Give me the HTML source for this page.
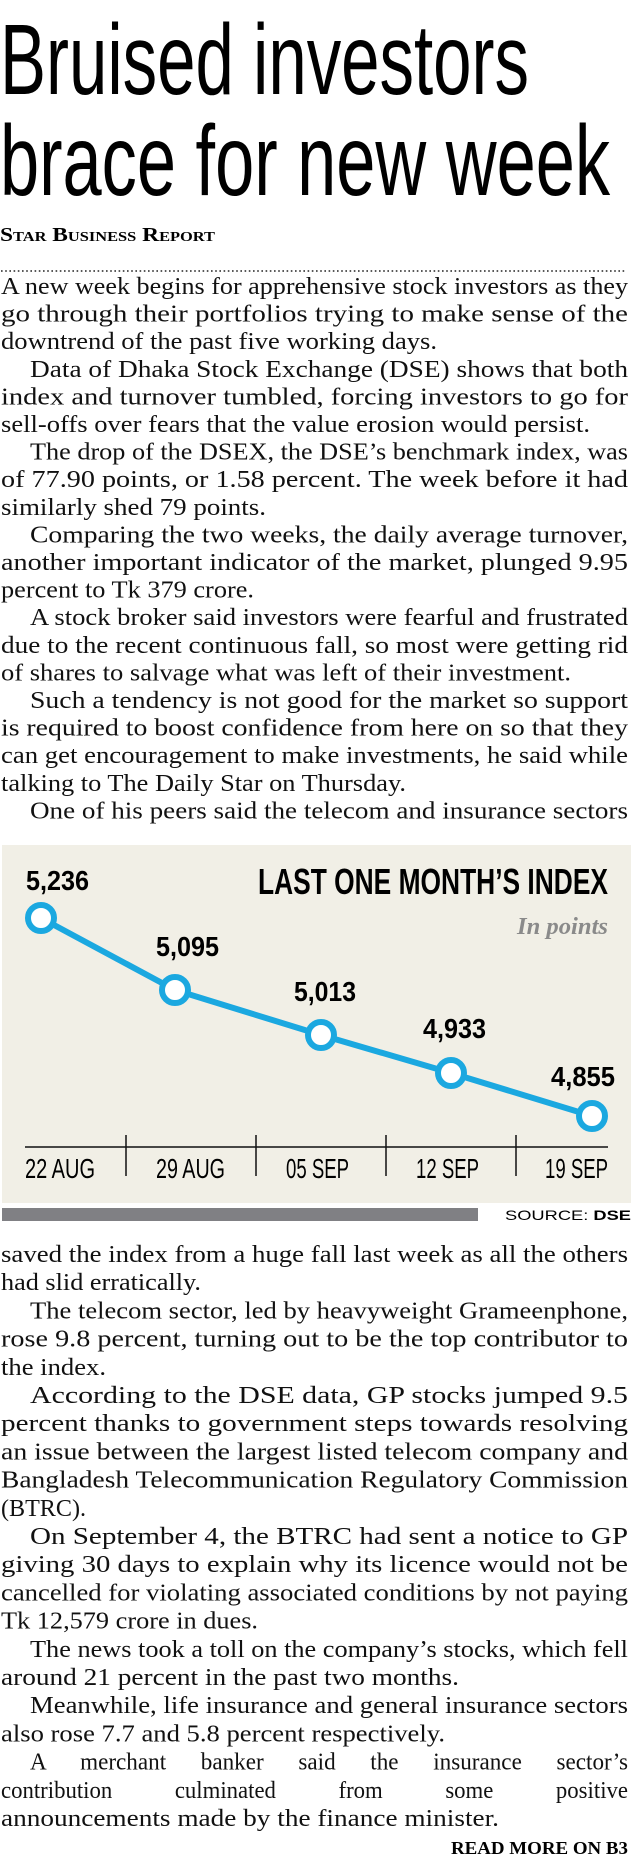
<!DOCTYPE html>
<html><head><meta charset="utf-8"><style>
html,body{margin:0;padding:0;background:#fff;}
svg{display:block;}
.b{font-family:"Liberation Serif",serif;font-size:24px;fill:#111;}
.c{font-family:"Liberation Sans Narrow","Liberation Sans",sans-serif;}
</style></head><body>
<svg width="631" height="1867" viewBox="0 0 631 1867" xmlns="http://www.w3.org/2000/svg">
<text class="c" x="0" y="94" font-size="100" textLength="529" lengthAdjust="spacingAndGlyphs">Bruised investors</text>
<text class="c" x="0" y="195" font-size="100" textLength="610" lengthAdjust="spacingAndGlyphs">brace for new week</text>
<text x="0" y="241" font-family="Liberation Serif,serif" font-size="20" font-weight="bold" textLength="215" lengthAdjust="spacingAndGlyphs" style="font-variant:small-caps">Star Business Report</text>
<line x1="1" y1="271" x2="625" y2="271" stroke="#222" stroke-width="1.6" stroke-dasharray="1.6 2.6"/>
<g class="b" lengthAdjust="spacingAndGlyphs">
<text x="1" y="294" textLength="627" lengthAdjust="spacingAndGlyphs">A new week begins for apprehensive stock investors as they</text>
<text x="1" y="321.6" textLength="627" lengthAdjust="spacingAndGlyphs">go through their portfolios trying to make sense of the</text>
<text x="1" y="349.2" textLength="436" lengthAdjust="spacingAndGlyphs">downtrend of the past five working days.</text>
<text x="30" y="376.8" textLength="598" lengthAdjust="spacingAndGlyphs">Data of Dhaka Stock Exchange (DSE) shows that both</text>
<text x="1" y="404.4" textLength="627" lengthAdjust="spacingAndGlyphs">index and turnover tumbled, forcing investors to go for</text>
<text x="1" y="432" textLength="589" lengthAdjust="spacingAndGlyphs">sell-offs over fears that the value erosion would persist.</text>
<text x="30" y="459.6" textLength="598" lengthAdjust="spacingAndGlyphs">The drop of the DSEX, the DSE’s benchmark index, was</text>
<text x="1" y="487.2" textLength="627" lengthAdjust="spacingAndGlyphs">of 77.90 points, or 1.58 percent. The week before it had</text>
<text x="1" y="514.8" textLength="265" lengthAdjust="spacingAndGlyphs">similarly shed 79 points.</text>
<text x="30" y="542.4" textLength="598" lengthAdjust="spacingAndGlyphs">Comparing the two weeks, the daily average turnover,</text>
<text x="1" y="570" textLength="627" lengthAdjust="spacingAndGlyphs">another important indicator of the market, plunged 9.95</text>
<text x="1" y="597.6" textLength="253" lengthAdjust="spacingAndGlyphs">percent to Tk 379 crore.</text>
<text x="30" y="625.2" textLength="598" lengthAdjust="spacingAndGlyphs">A stock broker said investors were fearful and frustrated</text>
<text x="1" y="652.8" textLength="627" lengthAdjust="spacingAndGlyphs">due to the recent continuous fall, so most were getting rid</text>
<text x="1" y="680.4" textLength="570" lengthAdjust="spacingAndGlyphs">of shares to salvage what was left of their investment.</text>
<text x="30" y="708" textLength="598" lengthAdjust="spacingAndGlyphs">Such a tendency is not good for the market so support</text>
<text x="1" y="735.6" textLength="627" lengthAdjust="spacingAndGlyphs">is required to boost confidence from here on so that they</text>
<text x="1" y="763.2" textLength="627" lengthAdjust="spacingAndGlyphs">can get encouragement to make investments, he said while</text>
<text x="1" y="790.8" textLength="405" lengthAdjust="spacingAndGlyphs">talking to The Daily Star on Thursday.</text>
<text x="30" y="818.4" textLength="598" lengthAdjust="spacingAndGlyphs">One of his peers said the telecom and insurance sectors</text>
</g>
<!-- chart -->
<rect x="2" y="845" width="629" height="358" fill="#f1efe6"/>
<text class="c" x="258" y="894" font-size="36" font-weight="bold" textLength="350" lengthAdjust="spacingAndGlyphs">LAST ONE MONTH’S INDEX</text>
<text x="517" y="934" font-family="Liberation Serif,serif" font-style="italic" font-weight="bold" font-size="24" fill="#8a8a8a" textLength="91" lengthAdjust="spacingAndGlyphs">In points</text>
<polyline points="41,918 175,990 321,1035 451,1073 592,1116" fill="none" stroke="#1ba8e0" stroke-width="6"/>
<g fill="#fff" stroke="#1ba8e0" stroke-width="6">
<circle cx="41" cy="918" r="13"/><circle cx="175" cy="990" r="13"/><circle cx="321" cy="1035" r="13"/><circle cx="451" cy="1073" r="13"/><circle cx="592" cy="1116" r="13"/>
</g>
<g class="c" font-size="28" font-weight="bold">
<text x="26" y="890" textLength="63" lengthAdjust="spacingAndGlyphs">5,236</text>
<text x="156" y="956" textLength="63" lengthAdjust="spacingAndGlyphs">5,095</text>
<text x="294" y="1001" textLength="62" lengthAdjust="spacingAndGlyphs">5,013</text>
<text x="423" y="1038" textLength="63" lengthAdjust="spacingAndGlyphs">4,933</text>
<text x="551" y="1086" textLength="64" lengthAdjust="spacingAndGlyphs">4,855</text>
</g>
<line x1="25" y1="1147" x2="608" y2="1147" stroke="#111" stroke-width="1.5"/>
<g stroke="#111" stroke-width="1.5">
<line x1="126" y1="1135" x2="126" y2="1176"/><line x1="256" y1="1135" x2="256" y2="1176"/><line x1="386" y1="1135" x2="386" y2="1176"/><line x1="516" y1="1135" x2="516" y2="1176"/>
</g>
<g class="c" font-size="28">
<text x="25" y="1178" textLength="70" lengthAdjust="spacingAndGlyphs">22 AUG</text>
<text x="156" y="1178" textLength="69" lengthAdjust="spacingAndGlyphs">29 AUG</text>
<text x="286" y="1178" textLength="63" lengthAdjust="spacingAndGlyphs">05 SEP</text>
<text x="416" y="1178" textLength="63" lengthAdjust="spacingAndGlyphs">12 SEP</text>
<text x="545" y="1178" textLength="63" lengthAdjust="spacingAndGlyphs">19 SEP</text>
</g>
<rect x="2" y="1208" width="476" height="13" fill="#808084"/>
<text x="505" y="1220" font-family="Liberation Sans,sans-serif" font-size="14" textLength="126" lengthAdjust="spacingAndGlyphs">SOURCE: <tspan font-weight="bold">DSE</tspan></text>
<g class="b">
<text x="1" y="1262" textLength="627" lengthAdjust="spacingAndGlyphs">saved the index from a huge fall last week as all the others</text>
<text x="1" y="1290.2" textLength="200" lengthAdjust="spacingAndGlyphs">had slid erratically.</text>
<text x="30" y="1318.4" textLength="598" lengthAdjust="spacingAndGlyphs">The telecom sector, led by heavyweight Grameenphone,</text>
<text x="1" y="1346.6" textLength="627" lengthAdjust="spacingAndGlyphs">rose 9.8 percent, turning out to be the top contributor to</text>
<text x="1" y="1374.8" textLength="105" lengthAdjust="spacingAndGlyphs">the index.</text>
<text x="30" y="1403" textLength="598" lengthAdjust="spacingAndGlyphs">According to the DSE data, GP stocks jumped 9.5</text>
<text x="1" y="1431.2" textLength="627" lengthAdjust="spacingAndGlyphs">percent thanks to government steps towards resolving</text>
<text x="1" y="1459.4" textLength="627" lengthAdjust="spacingAndGlyphs">an issue between the largest listed telecom company and</text>
<text x="1" y="1487.6" textLength="627" lengthAdjust="spacingAndGlyphs">Bangladesh Telecommunication Regulatory Commission</text>
<text x="1" y="1515.8" textLength="85" lengthAdjust="spacingAndGlyphs">(BTRC).</text>
<text x="30" y="1544" textLength="598" lengthAdjust="spacingAndGlyphs">On September 4, the BTRC had sent a notice to GP</text>
<text x="1" y="1572.2" textLength="627" lengthAdjust="spacingAndGlyphs">giving 30 days to explain why its licence would not be</text>
<text x="1" y="1600.4" textLength="627" lengthAdjust="spacingAndGlyphs">cancelled for violating associated conditions by not paying</text>
<text x="1" y="1628.6" textLength="257" lengthAdjust="spacingAndGlyphs">Tk 12,579 crore in dues.</text>
<text x="30" y="1656.8" textLength="598" lengthAdjust="spacingAndGlyphs">The news took a toll on the company’s stocks, which fell</text>
<text x="1" y="1685" textLength="458" lengthAdjust="spacingAndGlyphs">around 21 percent in the past two months.</text>
<text x="30" y="1713.2" textLength="598" lengthAdjust="spacingAndGlyphs">Meanwhile, life insurance and general insurance sectors</text>
<text x="1" y="1741.4" textLength="444" lengthAdjust="spacingAndGlyphs">also rose 7.7 and 5.8 percent respectively.</text>
<text x="30" y="1769.6" textLength="598" lengthAdjust="spacingAndGlyphs" word-spacing="30">A merchant banker said the insurance sector’s</text>
<text x="1" y="1797.8" textLength="627" lengthAdjust="spacingAndGlyphs" word-spacing="60">contribution culminated from some positive</text>
<text x="1" y="1826" textLength="498" lengthAdjust="spacingAndGlyphs">announcements made by the finance minister.</text>
</g>
<text x="451" y="1854" font-family="Liberation Serif,serif" font-weight="bold" font-size="18" textLength="177" lengthAdjust="spacingAndGlyphs">READ MORE ON B3</text>
</svg>
</body></html>
